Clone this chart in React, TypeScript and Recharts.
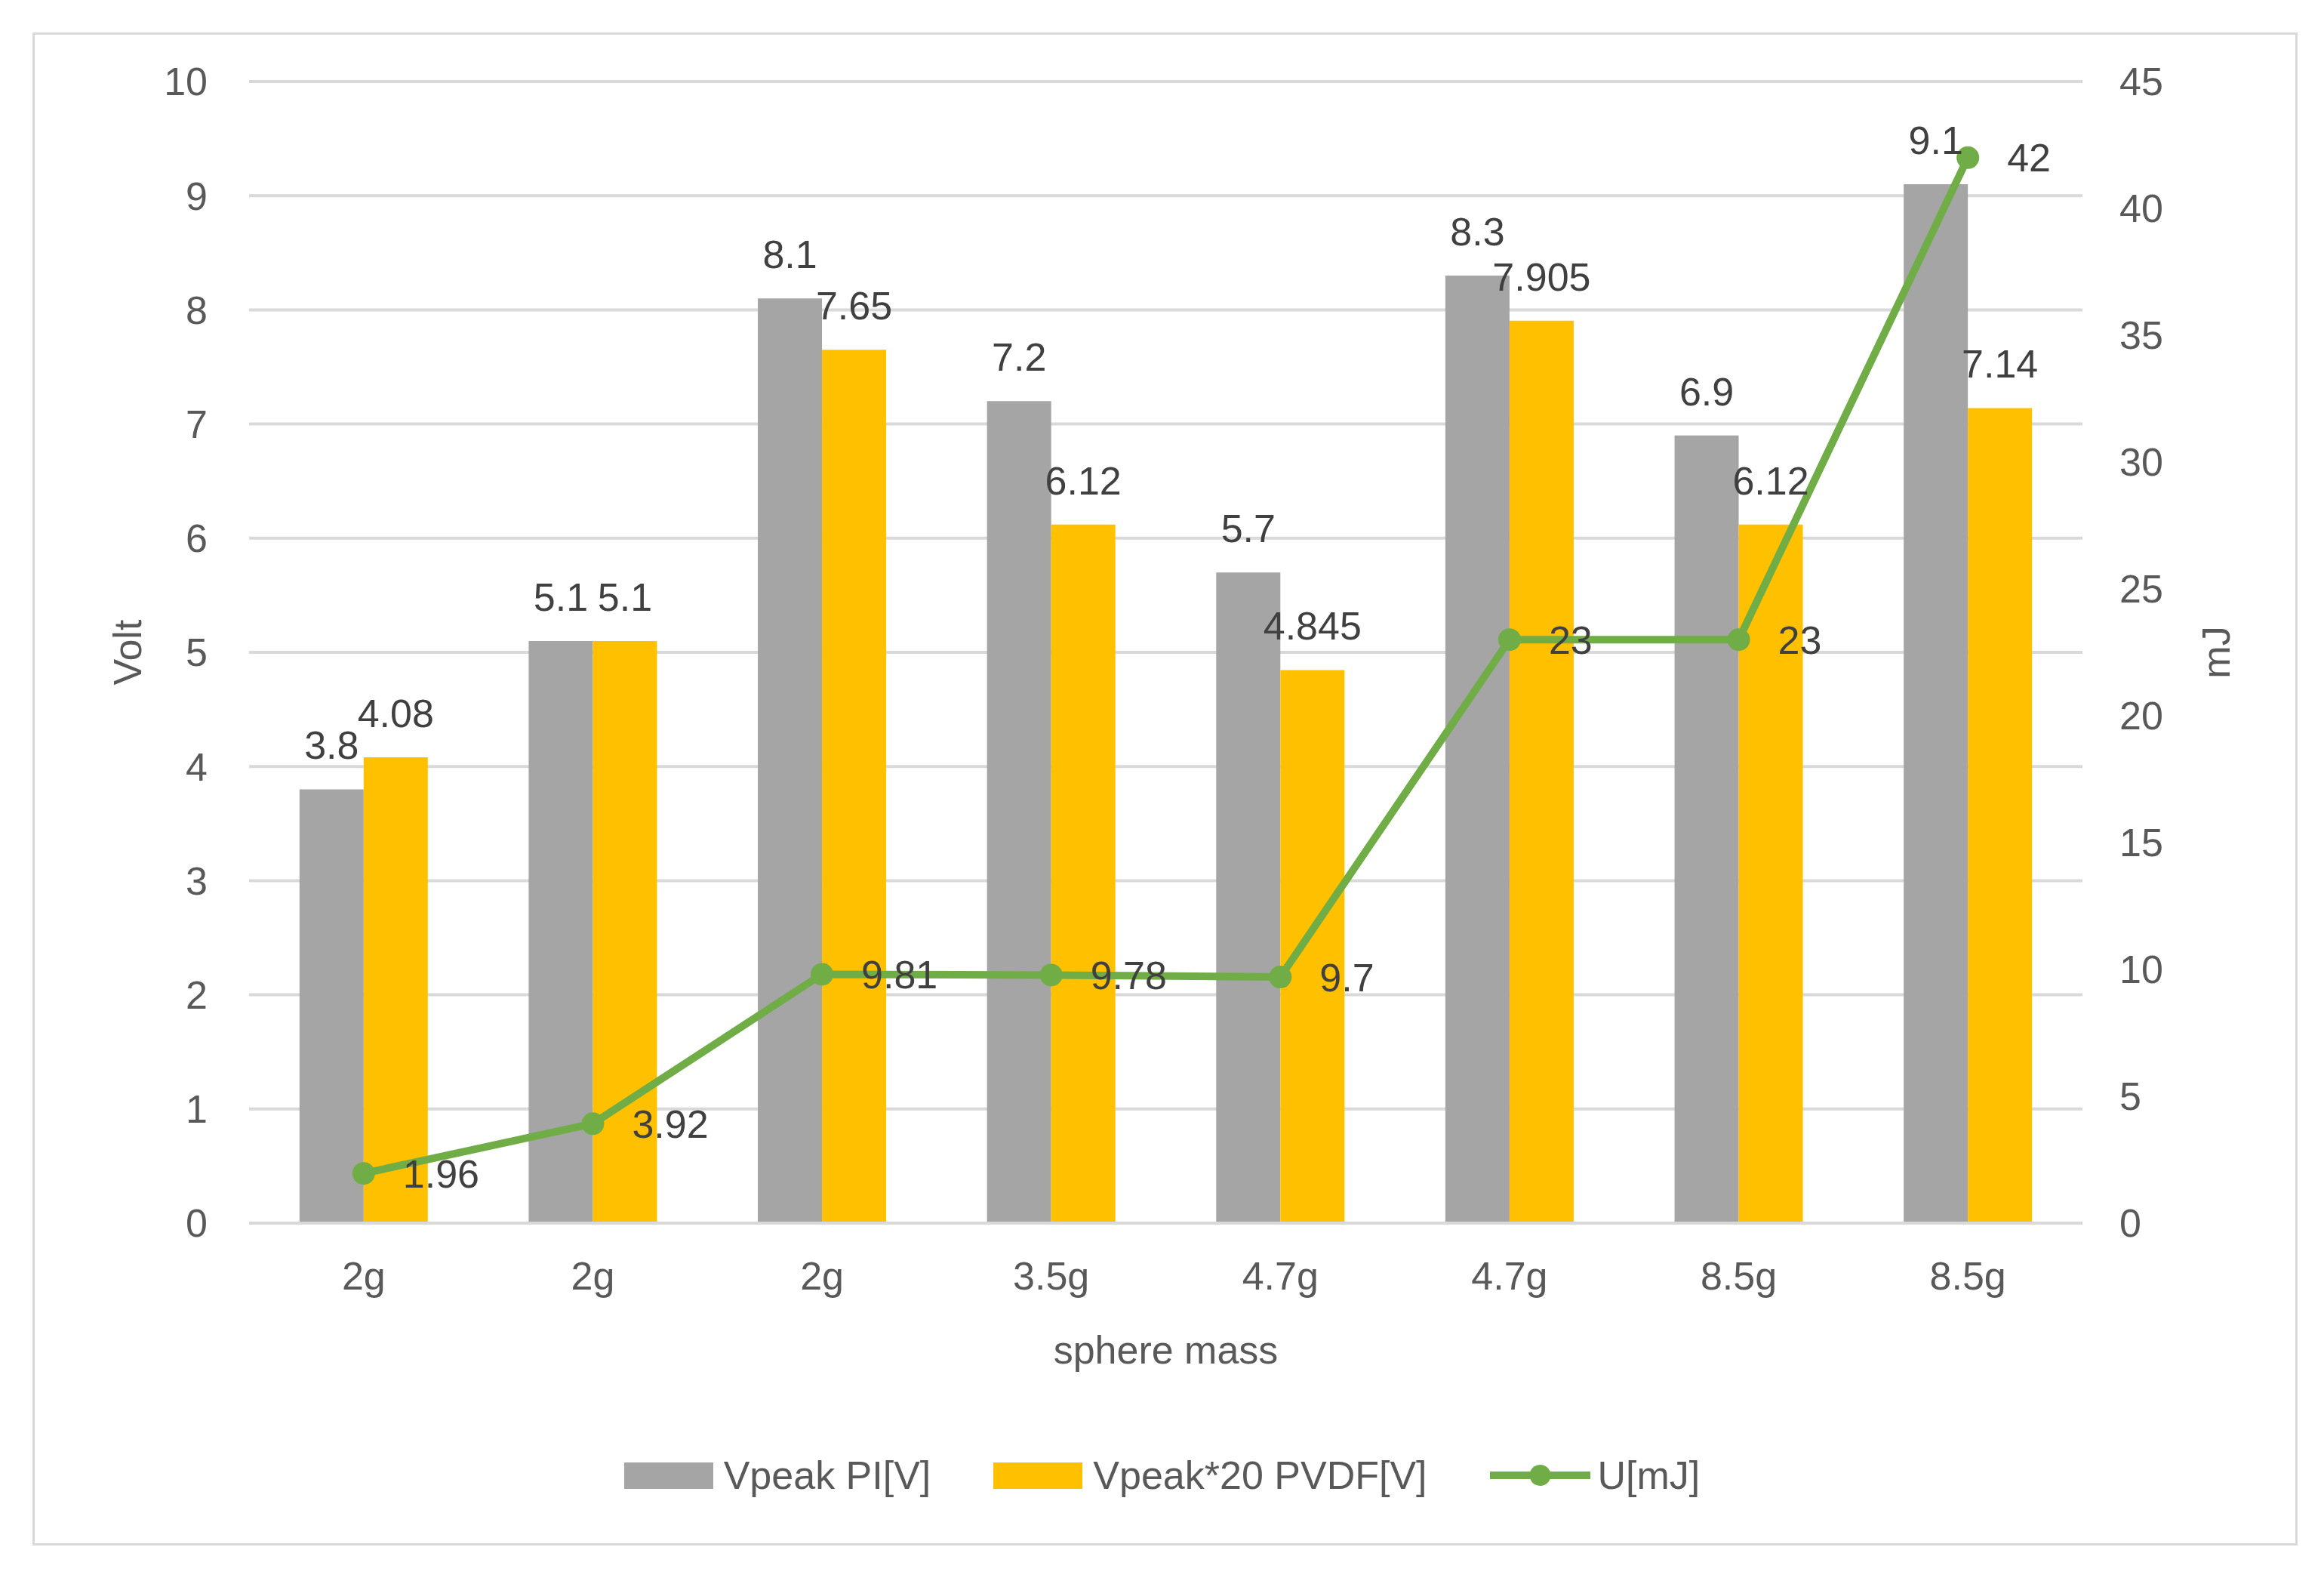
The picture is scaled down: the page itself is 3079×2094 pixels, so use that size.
import React from 'react';
import {
  ComposedChart, Bar, Line, XAxis, YAxis, CartesianGrid, Legend, LabelList,
} from 'recharts';

const categories = ['2g', '2g', '2g', '3.5g', '4.7g', '4.7g', '8.5g', '8.5g'];
const vpeakPI = [3.8, 5.1, 8.1, 7.2, 5.7, 8.3, 6.9, 9.1];
const vpeakPVDF = [4.08, 5.1, 7.65, 6.12, 4.845, 7.905, 6.12, 7.14];
const energy = [1.96, 3.92, 9.81, 9.78, 9.7, 23, 23, 42];
const leftTicks = [0, 1, 2, 3, 4, 5, 6, 7, 8, 9, 10];
const rightTicks = [0, 5, 10, 15, 20, 25, 30, 35, 40, 45];
const seriesNames = ['Vpeak PI[V]', 'Vpeak*20 PVDF[V]', 'U[mJ]'];

const data = categories.map((c, i) => ({
  cat: c,
  pi: vpeakPI[i],
  pvdf: vpeakPVDF[i],
  u: energy[i],
}));

const FONT = '"Liberation Sans", Arial, sans-serif';
const FS = 52;
const TICK_COLOR = '#595959';
const LABEL_COLOR = '#404040';
const GRID = '#D9D9D9';
const GRAY = '#A5A5A5';
const YELLOW = '#FFC000';
const GREEN = '#70AD47';

const W = 3063;
const H = 2078;

const renderLegend = (props: any) => {
  const payload = [...(props.payload || [])].sort(
    (a: any, b: any) => seriesNames.indexOf(a.value) - seriesNames.indexOf(b.value)
  );
  return (
    <div style={{ display: 'flex', justifyContent: 'center', alignItems: 'center', fontFamily: FONT, fontSize: FS, color: TICK_COLOR, height: 100 }}>
      {payload.map((entry: any, i: number) => (
        <div key={i} style={{ display: 'flex', alignItems: 'center', marginRight: i < payload.length - 1 ? 83 : 0 }}>
          {entry.type === 'line' ? (
            <svg width={133} height={40} style={{ marginRight: 10 }}>
              <line x1={0} y1={20} x2={133} y2={20} stroke={entry.color} strokeWidth={10} />
              <circle cx={66.5} cy={20} r={14} fill={entry.color} />
            </svg>
          ) : (
            <div style={{ width: 118, height: 35, background: entry.color, marginRight: 14 }} />
          )}
          <span>{entry.value}</span>
        </div>
      ))}
    </div>
  );
};

export default function App() {
  return (
    <div style={{ position: 'relative', width: W, height: H }}>
      <div style={{ position: 'absolute', left: 35, top: 35, width: 3001, height: 2004, border: `3px solid ${GRID}`, boxSizing: 'border-box', pointerEvents: 'none' }} />
      <ComposedChart
        width={W}
        height={H}
        data={data}
        margin={{ top: 100, right: 0, bottom: 82, left: 0 }}
        barCategoryGap="22%"
        barGap={0}
        style={{ fontFamily: FONT }}
      >
        <CartesianGrid vertical={false} stroke={GRID} strokeWidth={4} yAxisId="left" />
        <XAxis
          dataKey="cat"
          height={284}
          axisLine={{ stroke: GRID, strokeWidth: 4 }}
          tickLine={false}
          tickSize={0}
          tickMargin={51}
          tick={{ fill: TICK_COLOR, fontSize: FS, fontFamily: FONT }}
          label={{ value: 'sphere mass', position: 'insideTop', offset: 149, fill: TICK_COLOR, fontSize: FS, fontFamily: FONT }}
        />
        <YAxis
          yAxisId="left"
          orientation="left"
          width={322}
          domain={[0, 10]}
          ticks={leftTicks}
          axisLine={false}
          tickLine={false}
          tickSize={0}
          tickMargin={55}
          tick={{ fill: TICK_COLOR, fontSize: FS, fontFamily: FONT }}
          label={{ value: 'Volt', angle: -90, position: 'center', fill: TICK_COLOR, fontSize: FS, fontFamily: FONT }}
        />
        <YAxis
          yAxisId="right"
          orientation="right"
          width={312}
          domain={[0, 45]}
          ticks={rightTicks}
          axisLine={false}
          tickLine={false}
          tickSize={0}
          tickMargin={49}
          tick={{ fill: TICK_COLOR, fontSize: FS, fontFamily: FONT }}
          label={{ value: 'mJ', angle: -90, position: 'center', dx: 21, fill: TICK_COLOR, fontSize: FS, fontFamily: FONT }}
        />
        <Legend verticalAlign="bottom" height={100} content={renderLegend} />
        <Bar yAxisId="left" dataKey="pi" name={seriesNames[0]} fill={GRAY} isAnimationActive={false}>
          <LabelList dataKey="pi" position="top" offset={40} fill={LABEL_COLOR} fontSize={FS} fontFamily={FONT} />
        </Bar>
        <Bar yAxisId="left" dataKey="pvdf" name={seriesNames[1]} fill={YELLOW} isAnimationActive={false}>
          <LabelList dataKey="pvdf" position="top" offset={40} fill={LABEL_COLOR} fontSize={FS} fontFamily={FONT} />
        </Bar>
        <Line
          yAxisId="right"
          dataKey="u"
          name={seriesNames[2]}
          stroke={GREEN}
          strokeWidth={10}
          dot={{ r: 15, fill: GREEN, stroke: GREEN, strokeWidth: 0 }}
          activeDot={false}
          isAnimationActive={false}
        >
          <LabelList dataKey="u" position="right" offset={52} fill={LABEL_COLOR} fontSize={FS} fontFamily={FONT} />
        </Line>
      </ComposedChart>
    </div>
  );
}
